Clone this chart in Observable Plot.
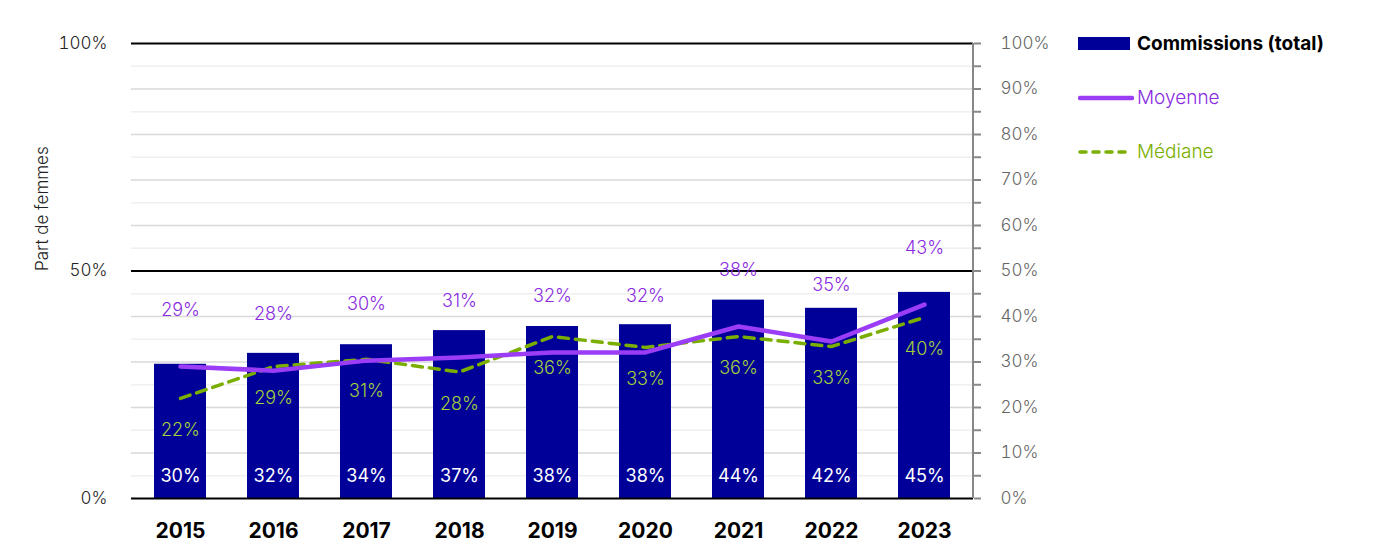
<!DOCTYPE html>
<html>
<head>
<meta charset="utf-8">
<script src="https://cdn.jsdelivr.net/npm/d3@7"></script>
<script src="https://cdn.jsdelivr.net/npm/@observablehq/plot@0.6"></script>
<style>
  body { margin: 0; background: #fff; font-family: Inter, "Noto Sans", sans-serif; }
  #wrap { position: relative; width: 1376px; height: 557px; }
  .leg { position: absolute; left: 1078px; display: flex; align-items: center; font-size: 18px; }
  .leg .sw { width: 56px; margin-right: 3px; }
</style>
</head>
<body>
<div id="wrap">
  <div id="chart"></div>
  <div class="leg" style="top:32px;">
    <div class="sw" style="height:13px;background:#000099;width:52px;margin-right:7px;"></div>
    <span style="font-weight:700;color:#000;font-size:19px;">Commissions (total)</span>
  </div>
  <div class="leg" style="top:86px;">
    <svg class="sw" width="56" height="10"><line x1="2" y1="5" x2="54" y2="5" stroke="#9b3cf7" stroke-width="4.5" stroke-linecap="round"/></svg>
    <span style="color:#8a2be2;font-weight:300;font-size:19px;">Moyenne</span>
  </div>
  <div class="leg" style="top:140px;">
    <svg class="sw" width="56" height="10"><line x1="2" y1="5" x2="54" y2="5" stroke="#7aae00" stroke-width="3.5" stroke-linecap="round" stroke-dasharray="6,7"/></svg>
    <span style="color:#7aae00;font-weight:300;font-size:19px;">Médiane</span>
  </div>
</div>
<script>
const years = ["2015","2016","2017","2018","2019","2020","2021","2022","2023"];
const total = [29.5, 31.9, 33.8, 36.9, 37.8, 38.2, 43.6, 41.8, 45.3];
const moyenne = [29.0, 28.1, 30.3, 31.0, 32.1, 32.1, 37.8, 34.5, 42.6];
const mediane = [22.0, 29.0, 30.6, 27.8, 35.6, 33.2, 35.6, 33.4, 39.8];
const leftTicks = [0, 50, 100];
const rightTicks = d3.range(0, 101, 5);
const minorGrid = d3.range(5, 100, 10);
const majorGrid = [10, 20, 30, 40, 60, 70, 80, 90];

const rows = years.map((y, i) => ({year: y, total: total[i], moyenne: moyenne[i], mediane: mediane[i]}));
const pct = v => Math.round(v) + "%";
const font = "Inter, 'Noto Sans', sans-serif";

const rightLine = (index, scales, values, dim) => {
  const x = dim.width - dim.marginRight;
  const g = d3.create("svg:g");
  g.append("line").attr("x1", x).attr("x2", x)
    .attr("y1", dim.marginTop).attr("y2", dim.height - dim.marginBottom)
    .attr("stroke", "#888").attr("stroke-width", 2);
  return g.node();
};

const chart = Plot.plot({
  width: 1376,
  height: 557,
  marginLeft: 131,
  marginRight: 403,
  marginTop: 43,
  marginBottom: 59,
  style: {fontFamily: font, background: "#fff"},
  x: {type: "band", domain: years, paddingInner: 0.44, paddingOuter: 0.22},
  y: {domain: [0, 100]},
  marks: [
    Plot.ruleY(minorGrid, {stroke: "#f0f0f0", strokeWidth: 1.5}),
    Plot.ruleY(majorGrid, {stroke: "#d9d9d9", strokeWidth: 1.5}),
    Plot.barY(rows, {x: "year", y: "total", fill: "#000099"}),
    Plot.ruleY(leftTicks, {stroke: "#000", strokeWidth: 2}),
    rightLine,
    Plot.line(rows, {x: "year", y: "mediane", stroke: "#7aae00", strokeWidth: 3.5, strokeDasharray: "10,7"}),
    Plot.line(rows, {x: "year", y: "moyenne", stroke: "#9b3cf7", strokeWidth: 4.5}),
    Plot.text(rows, {x: "year", y: "moyenne", text: d => pct(d.moyenne), dy: -56, fill: "#8a2be2", fontSize: 18, fontWeight: 300}),
    Plot.text(rows, {x: "year", y: "mediane", text: d => pct(d.mediane), dy: 32, fill: "#a3d13a", fontSize: 18, fontWeight: 300}),
    Plot.text(rows, {x: "year", y: 0, text: d => pct(d.total), dy: -22, fill: "#fff", fontSize: 18, fontWeight: 400}),
    Plot.axisY({anchor: "left", ticks: leftTicks, tickFormat: d => d + "%", tickSize: 0, tickPadding: 24, fontSize: 17, fontWeight: 300, color: "#222", label: null}),
    Plot.axisY({anchor: "right", ticks: rightTicks, tickFormat: d => d % 10 === 0 ? d + "%" : "", tickSize: 7, tickPadding: 20, fontSize: 17, fontWeight: 300, color: "#666", stroke: "#888", strokeWidth: 2, label: null}),
    Plot.axisX({tickSize: 0, tickPadding: 25, fontSize: 21, fontWeight: 700, color: "#000", label: null}),
    Plot.text(["Part de femmes"], {frameAnchor: "left", dx: -89, rotate: -90, fontSize: 17, fontWeight: 300, fill: "#222"})
  ]
});
document.getElementById("chart").appendChild(chart);
</script>
</body>
</html>
